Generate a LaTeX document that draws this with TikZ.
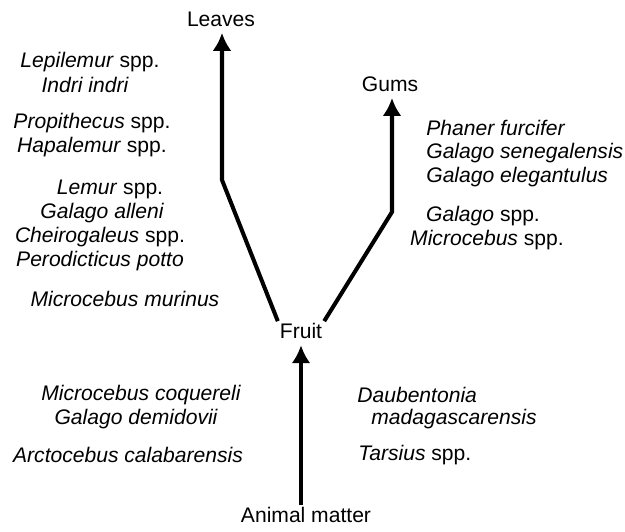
\documentclass[tikz,border=0pt]{standalone}
\usepackage{fontspec}
\setmainfont{Liberation Sans}
\usetikzlibrary{arrows.meta}

\begin{document}
\begin{tikzpicture}[
	food/.style={font=\fontsize{12}{14}\selectfont, inner sep=1pt},
	taxon/.style={font=\fontsize{12}{14}\selectfont\itshape, inner sep=0pt},
	diet/.style={line width=2.3pt, shorten >=2.5pt, -{Latex[length=3.6mm,width=3.8mm]}}]

	\useasboundingbox (0,0) rectangle (12.5,10.62);

	% Dietes
	\node[food] (leaves) at (4.42,10.24) {Leaves};
	\node[food] (gums) at (7.80,8.94) {Gums};
	\node[food] (fruit) at (6.02,4.00) {Fruit};
	\node[food] (animal) at (6.12,0.32) {Animal matter};

	\coordinate (lbend) at (4.44,7.02);
	\coordinate (rbend) at (7.84,6.38);

	\draw[diet] (fruit.north west) -- (lbend) -- (lbend |- leaves.south);
	\draw[diet] (fruit.north east) -- (rbend) -- (rbend |- gums.south);
	\draw[diet] (fruit.south |- animal.north) -- (fruit.south);

	% Fulles
	\node[taxon] (lepi) at (1.80,9.38) {Lepilemur \textup{spp.}};
	\node[taxon] (indri) at (1.70,8.92) {Indri indri};
	\node[taxon] (propi) at (1.84,8.16) {Propithecus \textup{spp.}};
	\node[taxon] (hapa) at (1.84,7.68) {Hapalemur \textup{spp.}};
	\node[taxon] (lemur) at (2.20,6.84) {Lemur \textup{spp.}};
	\node[taxon] (galall) at (2.04,6.36) {Galago alleni};
	\node[taxon] (cheiro) at (2.00,5.88) {Cheirogaleus \textup{spp.}};
	\node[taxon] (pero) at (2.00,5.40) {Perodicticus potto};
	\node[taxon] (micmur) at (2.50,4.64) {Microcebus murinus};

	% Gomes
	\node[taxon, anchor=west] (phaner) at (8.52,8.06) {Phaner furcifer};
	\node[taxon, anchor=west] (galsen) at (8.52,7.56) {Galago senegalensis};
	\node[taxon, anchor=west] (galele) at (8.52,7.08) {Galago elegantulus};
	\node[taxon] (galspp) at (9.66,6.30) {Galago \textup{spp.}};
	\node[taxon] (micspp) at (9.74,5.82) {Microcebus \textup{spp.}};

	% Animals
	\node[taxon] (miccoq) at (2.82,2.72) {Microcebus coquereli};
	\node[taxon] (galdem) at (2.72,2.24) {Galago demidovii};
	\node[taxon] (arcto) at (2.56,1.52) {Arctocebus calabarensis};
	\node[taxon, anchor=west] (daub) at (7.14,2.72) {Daubentonia};
	\node[taxon, anchor=west] (mada) at (7.42,2.24) {madagascarensis};
	\node[taxon, anchor=west] (tars) at (7.16,1.52) {Tarsius \textup{spp.}};

\end{tikzpicture}
\end{document}
